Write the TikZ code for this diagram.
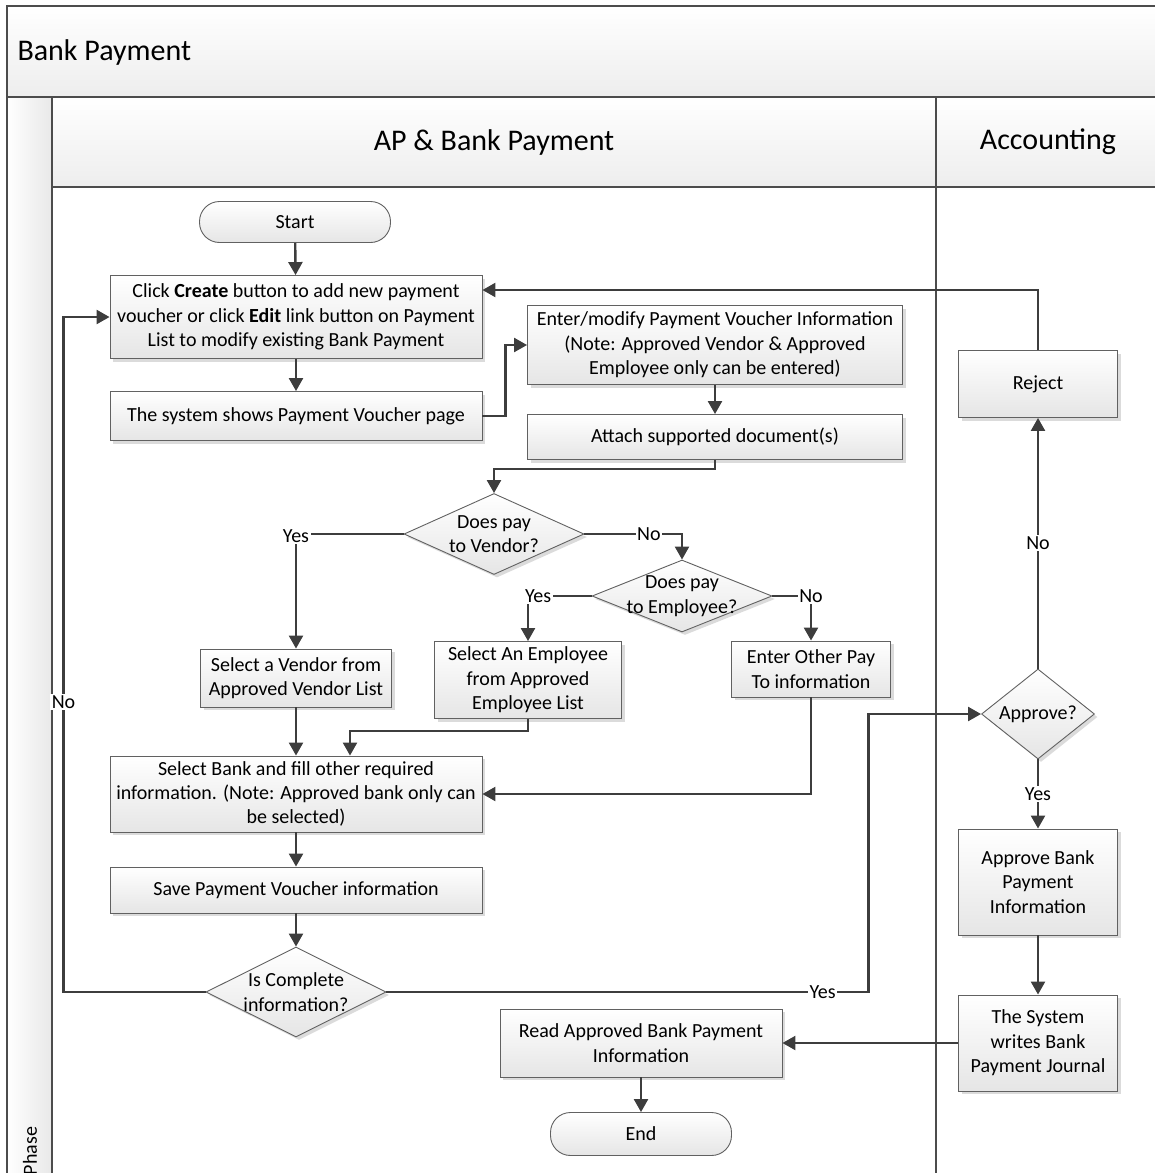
\documentclass[tikz,border=0pt]{standalone}
\usepackage{fontspec}
\setmainfont{Carlito}
\usetikzlibrary{arrows.meta,shapes.geometric,shadows}
\begin{document}
\begin{tikzpicture}[x=1pt,y=-1pt,
  every node/.style={font=\fontsize{20}{24.4}\selectfont},
  frameline/.style={draw=black!70, line width=1.6pt},
  shade/.style={top color=white, bottom color=black!10},
  shadowed/.style={drop shadow={shadow xshift=3pt, shadow yshift=-3pt, fill=black!14, opacity=1}},
  box/.style={shade, shadowed, draw=black!62, line width=0.9pt, align=center, inner sep=2pt},
  term/.style={shade, draw=black!62, line width=0.9pt, rounded corners=20pt, align=center},
  dec/.style={diamond, shade, shadowed, draw=black!62, line width=0.9pt, inner sep=0pt},
  dtext/.style={align=center, inner sep=0pt},
  flow/.style={draw=black!76, line width=2.4pt, -{Triangle[length=13pt,width=14pt]}},
  lab/.style={fill=white, inner sep=1.5pt},
  heading/.style={font=\fontsize{30}{36}\selectfont}]

\useasboundingbox (0,0) rectangle (1155,1173);

% pool and lane headers (the pool runs on past the right edge)
\fill[top color=white, bottom color=black!7] (7,6) rectangle (1160,97);
\fill[top color=white, bottom color=black!7] (52,97) rectangle (1160,187);
\fill[left color=white, right color=black!9] (7,97) rectangle (52,1173);
\draw[frameline] (1160,6) -- (7,6) -- (7,1175);
\draw[frameline] (7,97) -- (1160,97);
\draw[frameline] (52,187) -- (1160,187);
\draw[frameline] (52,97) -- (52,1175);
\draw[frameline] (936,97) -- (936,1175);

\node[heading, anchor=west] (pool) at (14,52) {Bank Payment};
\node[heading] (laneap) at (494,142) {AP \& Bank Payment};
\node[heading] (laneacc) at (1048,142) {Accounting};
\node[rotate=90] (phase) at (30,1151) {Phase};

% AP & Bank Payment lane
\node[term, minimum width=191, minimum height=41] (start) at (295,222) {Start};
\node[box, minimum width=372, minimum height=83] (create) at (296,317)
  {Click \textbf{Create} button to add new payment\\voucher or click \textbf{Edit} link button on Payment\\List to modify existing Bank Payment};
\node[box, minimum width=372, minimum height=49] (sys) at (296,416) {The system shows Payment Voucher page};
\node[box, minimum width=375, minimum height=79] (enter) at (715,345)
  {Enter/modify Payment Voucher Information\\(Note: Approved Vendor \& Approved\\Employee only can be entered)};
\node[box, minimum width=375, minimum height=45] (attach) at (715,437) {Attach supported document(s)};

\node[dec, minimum width=180, minimum height=81] (dv) at (494,534) {};
\node[dtext] (dvt) at (dv) {Does pay\\to Vendor?};
\node[dec, minimum width=180, minimum height=72] (de) at (682,596) {};
\node[dtext] (det) at (de) {Does pay\\to Employee?};

\node[box, minimum width=191, minimum height=58] (vendor) at (296,678) {Select a Vendor from\\Approved Vendor List};
\node[box, minimum width=187, minimum height=77] (emp) at (528,680) {Select An Employee\\from Approved\\Employee List};
\node[box, minimum width=159, minimum height=56] (other) at (811,669) {Enter Other Pay\\To information};

\node[box, minimum width=372, minimum height=76] (bank) at (296,794)
  {Select Bank and fill other required\\information. (Note: Approved bank only can\\be selected)};
\node[box, minimum width=372, minimum height=46] (save) at (296,890) {Save Payment Voucher information};
\node[dec, minimum width=180, minimum height=90] (ic) at (296,992) {};
\node[dtext] (ict) at (ic) {Is Complete\\information?};

\node[box, minimum width=282, minimum height=68] (read) at (641,1043) {Read Approved Bank Payment\\Information};
\node[term, minimum width=181, minimum height=43] (end) at (641,1134) {End};

% Accounting lane
\node[box, minimum width=159, minimum height=67] (reject) at (1038,384) {Reject};
\node[dec, minimum width=113, minimum height=90] (ap) at (1038,714) {};
\node[dtext] (apt) at (ap) {Approve?};
\node[box, minimum width=159, minimum height=106] (apbank) at (1038,882) {Approve Bank\\Payment\\Information};
\node[box, minimum width=159, minimum height=96] (journal) at (1038,1043) {The System\\writes Bank\\Payment Journal};

% connectors
\draw[flow] (start) -- (create);
\draw[flow] (create) -- (sys);
\draw[flow] (sys.east) -- ++(23,0) |- (enter.west);
\draw[flow] (enter) -- (attach);
\draw[flow] (attach.south) -- ++(0,9) -| (dv.north);
\draw[flow] (dv.west) -| node[lab, pos=0.5, yshift=-2]{Yes} (vendor.north);
\draw[flow] (dv.east) -| node[lab, pos=0.33]{No} (de.north);
\draw[flow] (de.west) -| node[lab, pos=0.42]{Yes} (emp.north);
\draw[flow] (de.east) -| node[lab, pos=0.5]{No} (other.north);
\draw[flow] (vendor.south) -- (vendor.south |- bank.north);
\draw[flow] (emp.south) -- ++(0,12) -| ([xshift=54]bank.north);
\draw[flow] (other.south) |- (bank.east);
\draw[flow] (bank) -- (save);
\draw[flow] (save) -- (ic);
\draw[flow] (ic.west) -- ++(-142,0) |- node[lab, pos=0.215]{No} (create.west);
\draw[flow] (ic.east) -- node[lab, pos=0.905]{Yes} ++(482,0) |- (ap.west);
\draw[flow] (ap.north) -- node[lab]{No} (reject.south);
\draw[flow] (reject.north) |- ([yshift=27]create.east);
\draw[flow] (ap.south) -- node[lab]{Yes} (apbank.north);
\draw[flow] (apbank) -- (journal);
\draw[flow] (journal.west) -- (read.east);
\draw[flow] (read) -- (end);
\end{tikzpicture}
\end{document}
